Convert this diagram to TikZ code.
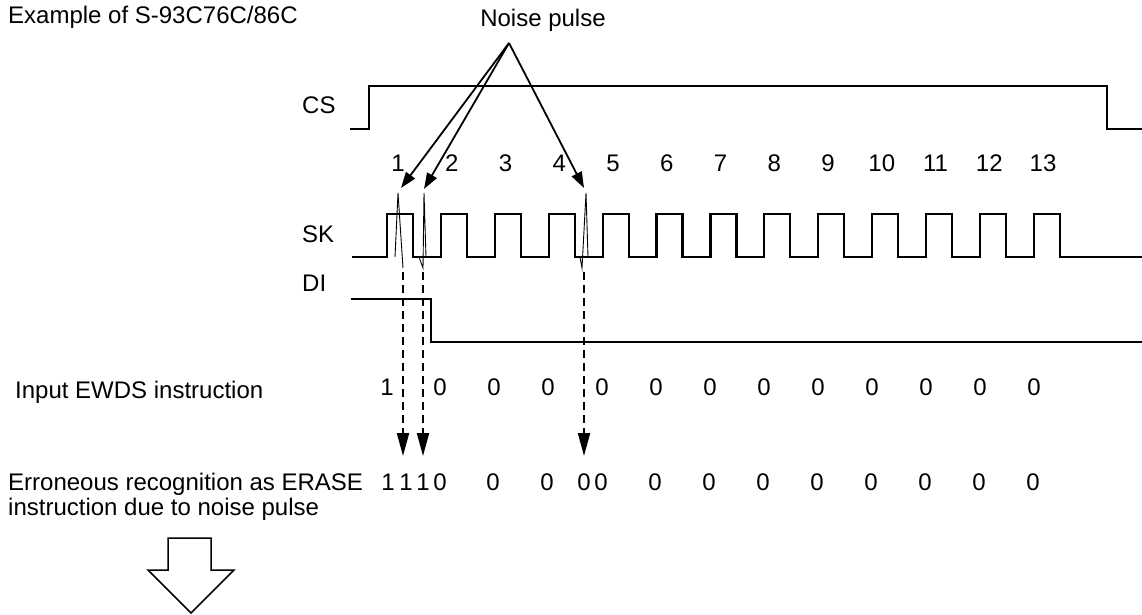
\documentclass[tikz,border=0pt]{standalone}
\usepackage{fontspec}
\setmainfont{Liberation Sans}
\usetikzlibrary{arrows.meta}
\begin{document}
\begin{tikzpicture}[x=1pt,y=-1pt,
  wave/.style={line width=2.2pt, line join=miter},
  lbl/.style={font=\fontsize{24}{28}\selectfont, inner sep=0pt, anchor=base},
  lblw/.style={lbl, anchor=base west},
  noisearrow/.style={line width=1.8pt, -{Triangle[length=16pt,width=11pt]}},
  spike/.style={line width=0.9pt},
  dasharrow/.style={line width=2pt, dash pattern=on 8pt off 5pt, -{Triangle[length=23pt,width=12pt]}},
  hollow/.style={line width=1.5pt, fill=white, line join=miter}
]
\useasboundingbox (0,0) rectangle (1142,614);

% titles and labels
\node[lblw] (title) at (8,23) {Example of S-93C76C/86C};
\node[lbl] (np) at (543,26.5) {Noise pulse};
\node[lblw] (cs) at (302,113) {CS};
\node[lblw] (sk) at (302,242) {SK};
\node[lblw] (di) at (302,291) {DI};
\node[lblw] (inp) at (15,398) {Input EWDS instruction};
\node[lblw] (err1) at (8,490) {Erroneous recognition as ERASE};
\node[lblw] (err2) at (8,515) {instruction due to noise pulse};

% clock numbers
\foreach \k in {1,...,13} {
  \node[lbl] (n\k) at ({398+53.75*(\k-1)},171) {\k};
}

% CS waveform
\draw[wave] (350,129) -- (369,129) -- (369,86) -- (1107,86) -- (1107,129) -- (1142,129);
% SK waveform
\draw[wave] (352,257) \foreach \k in {0,...,12} { -- ({387+53.9*\k},257) -- ({387+53.9*\k},214) -- ({413+53.9*\k},214) -- ({413+53.9*\k},257) } -- (1142,257);
% DI waveform
\draw[wave] (351,299) -- (431,299) -- (431,342) -- (1142,342);

% noise spikes
\draw[spike] (395,257) -- (398,193) -- (403,268);
\draw[spike] (419,257) -- (423,268) -- (424,193) -- (426,257);
\draw[spike] (580,257) -- (582,268) -- (586,193) -- (588,257);

% noise pulse arrows
\coordinate (apex) at (509,43);
\coordinate (t1) at (401,188);
\coordinate (t2) at (424,189);
\coordinate (t4) at (584,188);
\draw[noisearrow] (apex) -- (t1);
\draw[noisearrow] (apex) -- (t2);
\draw[noisearrow] (apex) -- (t4);

% dashed arrows
\coordinate (d1a) at (403,272); \coordinate (d1b) at (403,456);
\coordinate (d2a) at (423,272); \coordinate (d2b) at (423,456);
\coordinate (d4a) at (584,272); \coordinate (d4b) at (584,456);
\draw[dasharrow] (d1a) -- (d1b);
\draw[dasharrow] (d2a) -- (d2b);
\draw[dasharrow] (d4a) -- (d4b);

% input bits
\node[lbl] (a1) at (387,395) {1};
\foreach \i in {0,...,11} {
  \node[lbl] (a0\i) at ({440+54*\i},395) {0};
}
% erroneous bits
\node[lbl] (b1) at (388,490) {1};
\node[lbl] (b2) at (406,490) {1};
\node[lbl] (b3) at (423,490) {1};
\node[lbl] (b4) at (440,490) {0};
\node[lbl] (b5) at (493,490) {0};
\node[lbl] (b6) at (547,490) {0};
\node[lbl] (b7) at (584,490) {0};
\node[lbl] (b8) at (601,490) {0};
\foreach \i in {0,...,7} {
  \node[lbl] (c\i) at ({655+54*\i},490) {0};
}

% hollow down arrow
\draw[hollow] (168,538) -- (211,538) -- (211,570) -- (234,570) -- (191,613) -- (148,570) -- (168,570) -- cycle;
\end{tikzpicture}
\end{document}
